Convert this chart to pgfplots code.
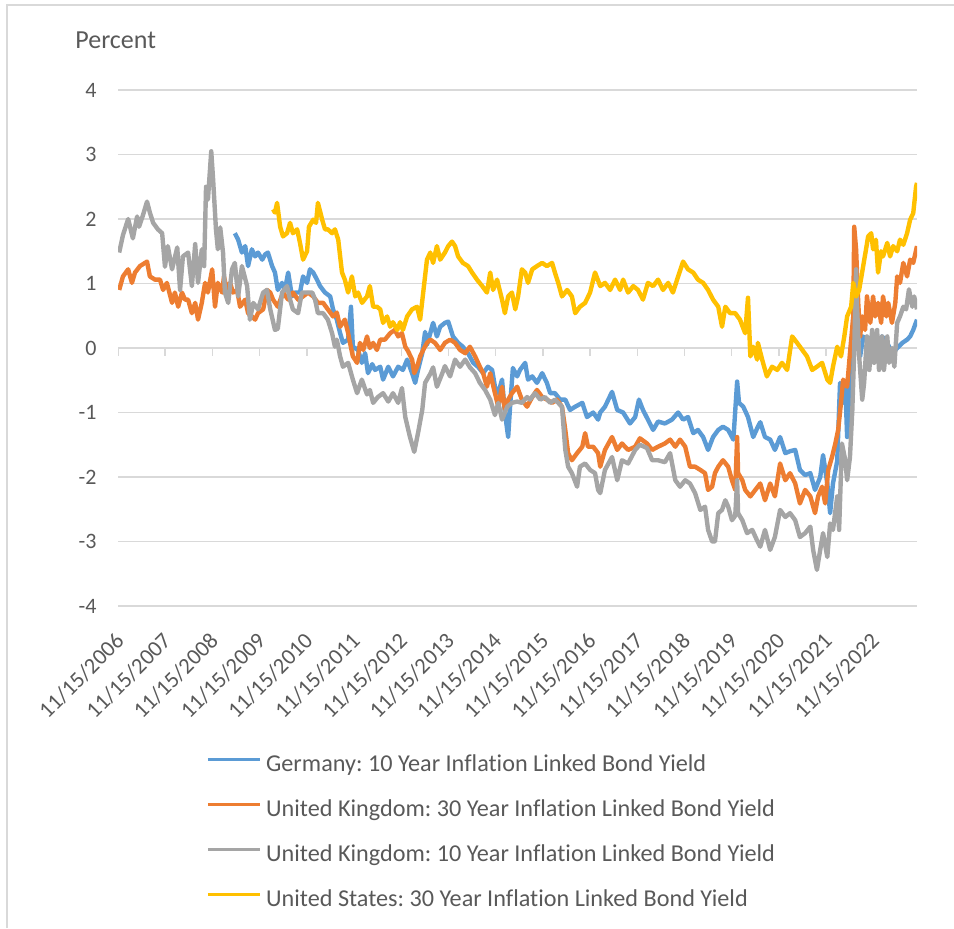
\documentclass[border=0pt]{standalone}
\usepackage{fontspec}
\setmainfont[Ligatures=NoCommon]{Carlito}
\usepackage{pgfplots}
\pgfplotsset{compat=1.18}
\definecolor{cblue}{HTML}{5B9BD5}
\definecolor{corange}{HTML}{ED7D31}
\definecolor{cgray}{HTML}{A5A5A5}
\definecolor{cgold}{HTML}{FFC000}
\definecolor{ctext}{HTML}{595959}
\definecolor{cgrid}{HTML}{D9D9D9}
\frenchspacing
\begin{document}
\begin{tikzpicture}[x=1pt,y=1pt]
\useasboundingbox (0,0) rectangle (477,-464);
\draw[color=cgrid, line width=0.75pt] (3.5,-464) -- (3.5,-2.5) -- (477,-2.5);
\node[anchor=base west, text=ctext, font=\fontsize{13}{15}\selectfont, inner sep=0pt] at (37.5,-24) {Percent};
\begin{axis}[
  at={(59pt,-303pt)}, anchor=south west,
  scale only axis, width=399.5pt, height=258pt,
  xmin=2006.875, xmax=2023.80, ymin=-4, ymax=4,
  ytick={-4,-3,-2,-1,0,1,2,3,4},
  yticklabels={-4,-3,-2,-1,0,1,2,3,4},
  xtick={2006.875,2007.875,2008.875,2009.875,2010.875,2011.875,2012.875,2013.875,2014.875,2015.875,2016.875,2017.875,2018.875,2019.875,2020.875,2021.875,2022.875},
  xticklabels={11/15/2006,11/15/2007,11/15/2008,11/15/2009,11/15/2010,11/15/2011,11/15/2012,11/15/2013,11/15/2014,11/15/2015,11/15/2016,11/15/2017,11/15/2018,11/15/2019,11/15/2020,11/15/2021,11/15/2022},
  axis line style={draw=none},
  major tick length=0pt,
  ymajorgrids, grid style={cgrid, line width=0.75pt},
  yticklabel style={anchor=east, inner sep=0pt, xshift=-10.5pt, text=ctext, font=\fontsize{11}{13}\selectfont},
  xticklabel style={xshift=-2pt, yshift=-12.5pt, rotate=45, anchor=north east, inner sep=0pt, text=ctext, font=\fontsize{11.3}{13}\selectfont},
  legend style={at={(axis description cs:0.1101,-0.286)}, anchor=north west, draw=none, fill=none, inner sep=0pt,
    font=\fontsize{12.1}{14}\selectfont, text=ctext, row sep=11.2pt, column sep=2.5pt,
    nodes={inner sep=0pt, text height=8.7pt, text depth=2.6pt}},
  legend cell align=left,
  legend image code/.code={\draw[#1, line width=1.4pt] (0pt,3pt) -- (26pt,3pt);},
  every axis plot/.append style={line width=2.2pt, line join=round, mark=none},
]
\draw[cgrid, line width=0.75pt] (axis cs:2006.875,0) -- (axis cs:2023.8,0);
\pgfplotsinvokeforeach{2006.875,2007.875,2008.875,2009.875,2010.875,2011.875,2012.875,2013.875,2014.875,2015.875,2016.875,2017.875,2018.875,2019.875,2020.875,2021.875,2022.875}{
  \draw[cgrid, line width=0.75pt] (axis cs:#1,0) -- ++(0pt,-4pt);
}
\addplot[cblue] coordinates {(2009.35,1.78)(2009.42,1.68)(2009.50,1.48)(2009.57,1.58)(2009.63,1.27)(2009.71,1.53)(2009.78,1.42)(2009.84,1.48)(2009.93,1.37)(2009.99,1.45)(2010.05,1.48)(2010.14,1.27)(2010.20,1.17)(2010.26,0.90)(2010.35,1.01)(2010.41,0.90)(2010.48,1.17)(2010.56,0.80)(2010.625,0.86)(2010.73,0.86)(2010.795,1.11)(2010.88,1.01)(2010.94,1.22)(2011.01,1.17)(2011.09,1.06)(2011.155,0.96)(2011.26,0.86)(2011.37,0.80)(2011.43,0.60)(2011.51,0.44)(2011.58,0.23)(2011.64,0.08)(2011.75,0.13)(2011.81,0.64)(2011.85,0.02)(2011.96,-0.03)(2012.04,-0.23)(2012.11,-0.08)(2012.17,-0.39)(2012.26,-0.25)(2012.32,-0.34)(2012.43,-0.29)(2012.49,-0.49)(2012.60,-0.29)(2012.70,-0.44)(2012.81,-0.29)(2012.91,-0.34)(2013.00,-0.18)(2013.105,-0.39)(2013.17,-0.54)(2013.23,-0.34)(2013.32,-0.08)(2013.38,0.25)(2013.42,0.05)(2013.49,0.23)(2013.55,0.39)(2013.63,0.18)(2013.70,0.33)(2013.80,0.39)(2013.87,0.41)(2013.97,0.18)(2014.08,0.08)(2014.18,0.02)(2014.29,-0.08)(2014.40,-0.23)(2014.50,-0.29)(2014.61,-0.39)(2014.71,-0.29)(2014.80,-0.34)(2014.86,-0.60)(2014.93,-0.70)(2015.01,-0.49)(2015.07,-1.00)(2015.14,-1.38)(2015.18,-0.91)(2015.24,-0.31)(2015.33,-0.44)(2015.39,-0.34)(2015.50,-0.23)(2015.56,-0.49)(2015.65,-0.44)(2015.75,-0.54)(2015.86,-0.39)(2015.96,-0.54)(2016.03,-0.70)(2016.13,-0.70)(2016.24,-0.80)(2016.35,-0.80)(2016.45,-0.96)(2016.56,-0.91)(2016.71,-0.85)(2016.81,-1.07)(2016.94,-1.00)(2017.045,-1.11)(2017.09,-1.00)(2017.19,-0.91)(2017.34,-0.68)(2017.45,-0.96)(2017.575,-1.00)(2017.72,-1.17)(2017.83,-1.07)(2017.91,-0.80)(2017.995,-0.96)(2018.10,-1.11)(2018.21,-1.27)(2018.315,-1.14)(2018.46,-1.17)(2018.61,-1.11)(2018.74,-1.00)(2018.845,-1.11)(2018.95,-1.07)(2019.06,-1.32)(2019.16,-1.27)(2019.27,-1.38)(2019.375,-1.58)(2019.48,-1.38)(2019.59,-1.27)(2019.69,-1.22)(2019.80,-1.27)(2019.91,-1.42)(2019.99,-0.52)(2020.03,-0.85)(2020.12,-0.91)(2020.22,-1.07)(2020.33,-1.38)(2020.43,-1.22)(2020.48,-1.15)(2020.58,-1.38)(2020.69,-1.42)(2020.79,-1.58)(2020.90,-1.38)(2021.01,-1.63)(2021.11,-1.60)(2021.22,-1.58)(2021.32,-1.89)(2021.43,-1.97)(2021.54,-1.94)(2021.64,-2.20)(2021.75,-2.00)(2021.81,-1.66)(2021.90,-2.10)(2021.96,-2.56)(2022.02,-2.10)(2022.11,-1.75)(2022.17,-0.54)(2022.235,-0.85)(2022.28,-0.54)(2022.32,-1.38)(2022.38,-0.54)(2022.43,0.18)(2022.47,0.75)(2022.53,0.18)(2022.595,-0.13)(2022.66,0.18)(2022.74,0.10)(2022.85,0.18)(2022.955,0.00)(2023.06,0.18)(2023.17,0.08)(2023.27,-0.08)(2023.38,0.00)(2023.49,0.08)(2023.59,0.13)(2023.655,0.18)(2023.72,0.28)(2023.80,0.44)};
\addlegendentry{Germany: 10 Year Inflation Linked Bond Yield}
\addplot[corange] coordinates {(2006.90,0.90)(2006.98,1.11)(2007.09,1.22)(2007.17,1.01)(2007.235,1.17)(2007.34,1.27)(2007.49,1.34)(2007.55,1.11)(2007.66,1.06)(2007.765,1.06)(2007.83,0.90)(2007.91,1.01)(2008.02,0.70)(2008.08,0.86)(2008.15,0.64)(2008.23,0.86)(2008.295,0.75)(2008.36,0.75)(2008.44,0.54)(2008.51,0.70)(2008.57,0.44)(2008.65,0.70)(2008.72,1.01)(2008.78,0.86)(2008.87,1.22)(2008.93,0.64)(2008.99,1.01)(2009.08,0.86)(2009.12,1.11)(2009.18,0.90)(2009.25,1.01)(2009.31,0.86)(2009.40,0.90)(2009.46,0.64)(2009.57,0.75)(2009.63,0.54)(2009.71,0.49)(2009.78,0.44)(2009.84,0.54)(2009.95,0.60)(2010.03,0.90)(2010.10,0.86)(2010.16,0.75)(2010.26,0.64)(2010.37,0.86)(2010.48,0.75)(2010.58,0.86)(2010.69,0.75)(2010.795,0.80)(2010.90,0.86)(2011.01,0.80)(2011.11,0.70)(2011.22,0.70)(2011.32,0.60)(2011.43,0.49)(2011.51,0.55)(2011.58,0.33)(2011.68,0.44)(2011.75,0.23)(2011.79,0.08)(2011.85,-0.13)(2011.94,-0.23)(2012.00,0.08)(2012.07,-0.03)(2012.15,0.18)(2012.21,0.00)(2012.28,0.08)(2012.36,-0.03)(2012.43,0.13)(2012.53,0.13)(2012.64,0.23)(2012.74,0.28)(2012.81,0.18)(2012.89,0.23)(2012.96,0.02)(2013.02,-0.05)(2013.105,-0.18)(2013.15,-0.39)(2013.21,-0.29)(2013.275,-0.13)(2013.34,-0.03)(2013.42,0.08)(2013.49,0.13)(2013.59,0.08)(2013.70,-0.03)(2013.80,0.08)(2013.91,0.13)(2014.015,0.08)(2014.12,-0.03)(2014.23,-0.08)(2014.33,0.02)(2014.44,-0.13)(2014.54,-0.29)(2014.61,-0.39)(2014.69,-0.60)(2014.76,-0.39)(2014.86,-0.70)(2014.93,-0.91)(2015.01,-0.60)(2015.07,-0.96)(2015.14,-0.80)(2015.22,-0.70)(2015.33,-0.60)(2015.43,-0.80)(2015.54,-0.91)(2015.65,-0.76)(2015.75,-0.65)(2015.86,-0.76)(2015.96,-0.80)(2016.07,-0.85)(2016.175,-0.80)(2016.28,-0.91)(2016.35,-1.27)(2016.41,-1.63)(2016.49,-1.74)(2016.60,-1.63)(2016.71,-1.53)(2016.77,-1.32)(2016.83,-1.53)(2016.94,-1.53)(2017.045,-1.63)(2017.09,-1.84)(2017.19,-1.58)(2017.34,-1.38)(2017.45,-1.58)(2017.55,-1.48)(2017.68,-1.58)(2017.83,-1.53)(2017.93,-1.40)(2018.08,-1.48)(2018.19,-1.58)(2018.315,-1.53)(2018.46,-1.48)(2018.57,-1.42)(2018.68,-1.53)(2018.78,-1.42)(2018.89,-1.53)(2018.99,-1.84)(2019.10,-1.84)(2019.21,-1.89)(2019.31,-1.94)(2019.375,-2.20)(2019.46,-2.15)(2019.52,-1.94)(2019.59,-1.84)(2019.69,-1.74)(2019.80,-1.84)(2019.88,-2.05)(2019.95,-2.20)(2019.99,-1.38)(2020.01,-1.94)(2020.10,-2.05)(2020.16,-2.20)(2020.27,-2.30)(2020.375,-2.20)(2020.48,-2.10)(2020.58,-2.36)(2020.69,-2.10)(2020.79,-2.30)(2020.90,-1.79)(2021.01,-2.05)(2021.11,-1.94)(2021.22,-2.10)(2021.32,-2.41)(2021.43,-2.20)(2021.54,-2.30)(2021.64,-2.56)(2021.705,-2.30)(2021.79,-2.15)(2021.855,-2.41)(2021.92,-1.89)(2022.00,-1.69)(2022.07,-1.48)(2022.13,-1.27)(2022.19,-0.85)(2022.235,-0.49)(2022.32,-0.60)(2022.38,-0.08)(2022.45,0.49)(2022.47,1.88)(2022.51,1.53)(2022.555,0.70)(2022.595,0.18)(2022.64,0.49)(2022.70,0.28)(2022.74,0.80)(2022.81,0.39)(2022.87,0.80)(2022.915,0.49)(2022.975,0.70)(2023.04,0.39)(2023.08,0.80)(2023.15,0.49)(2023.19,0.70)(2023.27,0.39)(2023.34,0.70)(2023.38,1.11)(2023.44,1.01)(2023.51,1.32)(2023.59,1.11)(2023.655,1.37)(2023.72,1.32)(2023.80,1.58)};
\addlegendentry{United Kingdom: 30 Year Inflation Linked Bond Yield}
\addplot[cgray] coordinates {(2006.90,1.48)(2006.98,1.75)(2007.09,2.00)(2007.19,1.70)(2007.28,2.04)(2007.32,1.88)(2007.40,2.05)(2007.49,2.27)(2007.55,2.10)(2007.62,1.94)(2007.72,1.84)(2007.81,1.78)(2007.87,1.26)(2007.93,1.58)(2008.02,1.22)(2008.13,1.56)(2008.19,0.90)(2008.25,1.42)(2008.36,1.48)(2008.44,0.96)(2008.51,1.61)(2008.57,1.01)(2008.65,1.53)(2008.70,1.27)(2008.74,2.50)(2008.78,2.30)(2008.85,3.05)(2008.89,2.61)(2008.95,1.84)(2008.99,1.53)(2009.04,1.87)(2009.10,1.48)(2009.14,0.86)(2009.21,0.70)(2009.29,1.22)(2009.35,1.32)(2009.42,0.80)(2009.50,1.27)(2009.61,0.96)(2009.67,0.44)(2009.74,0.70)(2009.84,0.60)(2009.95,0.86)(2010.03,0.90)(2010.10,0.60)(2010.20,0.28)(2010.26,0.30)(2010.35,0.86)(2010.455,0.96)(2010.52,0.75)(2010.58,0.60)(2010.69,0.54)(2010.77,0.86)(2010.88,0.86)(2010.99,0.86)(2011.05,0.75)(2011.11,0.54)(2011.22,0.54)(2011.32,0.44)(2011.41,0.23)(2011.47,0.02)(2011.51,0.13)(2011.58,-0.13)(2011.64,-0.29)(2011.75,-0.23)(2011.85,-0.49)(2011.94,-0.70)(2012.04,-0.49)(2012.15,-0.72)(2012.21,-0.65)(2012.28,-0.85)(2012.38,-0.76)(2012.49,-0.70)(2012.60,-0.83)(2012.70,-0.70)(2012.81,-0.85)(2012.89,-0.62)(2012.96,-1.07)(2013.06,-1.38)(2013.15,-1.61)(2013.23,-1.32)(2013.32,-0.96)(2013.38,-0.54)(2013.49,-0.40)(2013.55,-0.30)(2013.63,-0.60)(2013.74,-0.40)(2013.80,-0.28)(2013.91,-0.44)(2014.015,-0.18)(2014.12,-0.29)(2014.23,-0.18)(2014.33,-0.30)(2014.44,-0.39)(2014.54,-0.54)(2014.65,-0.65)(2014.76,-0.80)(2014.86,-1.04)(2014.93,-0.85)(2015.01,-1.11)(2015.12,-0.91)(2015.22,-0.85)(2015.33,-0.83)(2015.43,-0.85)(2015.54,-0.76)(2015.60,-0.80)(2015.71,-0.70)(2015.82,-0.80)(2015.92,-0.76)(2016.03,-0.85)(2016.13,-0.80)(2016.20,-0.85)(2016.28,-0.91)(2016.35,-1.58)(2016.41,-1.84)(2016.49,-1.94)(2016.60,-2.15)(2016.66,-1.84)(2016.77,-1.79)(2016.875,-1.89)(2016.98,-1.94)(2017.045,-2.20)(2017.09,-2.25)(2017.19,-1.89)(2017.34,-1.69)(2017.45,-2.05)(2017.55,-1.74)(2017.68,-1.79)(2017.83,-1.58)(2017.93,-1.50)(2018.08,-1.55)(2018.19,-1.74)(2018.315,-1.74)(2018.46,-1.77)(2018.57,-1.63)(2018.68,-2.05)(2018.78,-2.15)(2018.89,-2.05)(2018.99,-2.10)(2019.10,-2.25)(2019.21,-2.51)(2019.31,-2.46)(2019.375,-2.82)(2019.46,-3.00)(2019.52,-3.00)(2019.59,-2.56)(2019.67,-2.51)(2019.74,-2.36)(2019.80,-2.46)(2019.88,-2.67)(2019.95,-2.60)(2019.99,-2.05)(2020.01,-2.56)(2020.10,-2.67)(2020.20,-2.87)(2020.31,-2.82)(2020.41,-2.98)(2020.48,-3.08)(2020.58,-2.82)(2020.69,-3.13)(2020.79,-2.93)(2020.90,-2.51)(2021.01,-2.62)(2021.11,-2.56)(2021.22,-2.67)(2021.32,-2.93)(2021.43,-2.87)(2021.54,-2.77)(2021.60,-3.13)(2021.68,-3.44)(2021.75,-3.13)(2021.81,-2.87)(2021.90,-3.24)(2021.96,-2.72)(2022.02,-2.82)(2022.11,-2.30)(2022.15,-2.82)(2022.21,-1.48)(2022.28,-1.74)(2022.32,-2.05)(2022.38,-1.69)(2022.43,-0.96)(2022.47,-0.03)(2022.51,1.22)(2022.53,0.64)(2022.575,-0.13)(2022.64,-0.80)(2022.68,-0.54)(2022.74,0.18)(2022.79,-0.34)(2022.85,0.28)(2022.89,-0.23)(2022.955,0.28)(2022.995,-0.34)(2023.06,0.18)(2023.10,-0.34)(2023.17,0.18)(2023.21,-0.23)(2023.27,0.00)(2023.32,-0.29)(2023.38,0.39)(2023.44,0.49)(2023.51,0.64)(2023.57,0.60)(2023.63,0.91)(2023.70,0.64)(2023.74,0.80)(2023.80,0.60)};
\addlegendentry{United Kingdom: 10 Year Inflation Linked Bond Yield}
\addplot[cgold] coordinates {(2010.16,2.15)(2010.20,2.10)(2010.245,2.25)(2010.31,1.88)(2010.37,1.73)(2010.455,1.78)(2010.52,1.94)(2010.58,1.78)(2010.67,1.84)(2010.73,1.63)(2010.795,1.37)(2010.88,1.50)(2010.92,1.88)(2011.01,1.99)(2011.07,1.94)(2011.11,2.25)(2011.20,1.99)(2011.26,1.84)(2011.32,1.84)(2011.41,1.78)(2011.47,1.84)(2011.54,1.68)(2011.62,1.17)(2011.68,1.06)(2011.75,0.86)(2011.83,1.11)(2011.90,0.80)(2011.96,0.86)(2012.045,0.70)(2012.15,0.80)(2012.21,0.96)(2012.28,0.64)(2012.36,0.64)(2012.43,0.60)(2012.49,0.39)(2012.575,0.49)(2012.64,0.33)(2012.70,0.40)(2012.79,0.28)(2012.85,0.40)(2012.91,0.28)(2013.00,0.49)(2013.105,0.60)(2013.21,0.64)(2013.275,0.44)(2013.34,0.86)(2013.42,1.37)(2013.49,1.48)(2013.55,1.32)(2013.63,1.58)(2013.70,1.37)(2013.80,1.48)(2013.87,1.58)(2013.95,1.65)(2014.015,1.58)(2014.08,1.42)(2014.18,1.32)(2014.29,1.27)(2014.375,1.17)(2014.48,1.06)(2014.59,0.96)(2014.69,0.86)(2014.76,1.17)(2014.82,0.90)(2014.905,1.06)(2015.01,0.75)(2015.07,0.54)(2015.14,0.80)(2015.22,0.86)(2015.29,0.60)(2015.35,0.80)(2015.43,1.22)(2015.50,1.17)(2015.56,1.01)(2015.65,1.22)(2015.75,1.27)(2015.86,1.32)(2015.96,1.27)(2016.07,1.32)(2016.13,1.17)(2016.20,1.01)(2016.28,0.80)(2016.39,0.90)(2016.49,0.80)(2016.56,0.54)(2016.66,0.64)(2016.77,0.70)(2016.875,0.86)(2016.98,1.17)(2017.09,0.96)(2017.19,1.01)(2017.30,0.90)(2017.405,1.06)(2017.51,0.90)(2017.575,1.06)(2017.68,0.86)(2017.79,0.96)(2017.89,0.90)(2017.995,0.75)(2018.10,1.01)(2018.21,0.96)(2018.315,1.06)(2018.42,0.90)(2018.53,1.01)(2018.63,0.86)(2018.74,1.11)(2018.845,1.34)(2018.95,1.22)(2019.06,1.17)(2019.16,1.06)(2019.27,1.01)(2019.375,0.90)(2019.48,0.75)(2019.59,0.64)(2019.67,0.33)(2019.74,0.64)(2019.84,0.54)(2019.95,0.54)(2020.05,0.44)(2020.16,0.23)(2020.22,0.78)(2020.27,-0.13)(2020.33,0.02)(2020.415,-0.18)(2020.43,0.08)(2020.52,-0.18)(2020.62,-0.44)(2020.73,-0.29)(2020.84,-0.34)(2020.94,-0.23)(2021.05,-0.34)(2021.155,0.18)(2021.26,0.08)(2021.37,-0.03)(2021.47,-0.13)(2021.58,-0.34)(2021.68,-0.29)(2021.79,-0.23)(2021.90,-0.49)(2021.96,-0.54)(2022.02,-0.29)(2022.11,0.02)(2022.19,-0.13)(2022.26,0.18)(2022.32,0.49)(2022.405,0.64)(2022.45,1.01)(2022.51,0.80)(2022.575,0.90)(2022.66,1.27)(2022.72,1.53)(2022.765,1.73)(2022.83,1.78)(2022.87,1.53)(2022.93,1.68)(2022.975,1.17)(2023.04,1.50)(2023.08,1.42)(2023.17,1.63)(2023.23,1.42)(2023.295,1.58)(2023.38,1.50)(2023.44,1.68)(2023.51,1.60)(2023.59,1.78)(2023.655,1.99)(2023.72,2.09)(2023.78,2.50)(2023.80,2.56)};
\addlegendentry{United States: 30 Year Inflation Linked Bond Yield}
\end{axis}
\end{tikzpicture}
\end{document}
